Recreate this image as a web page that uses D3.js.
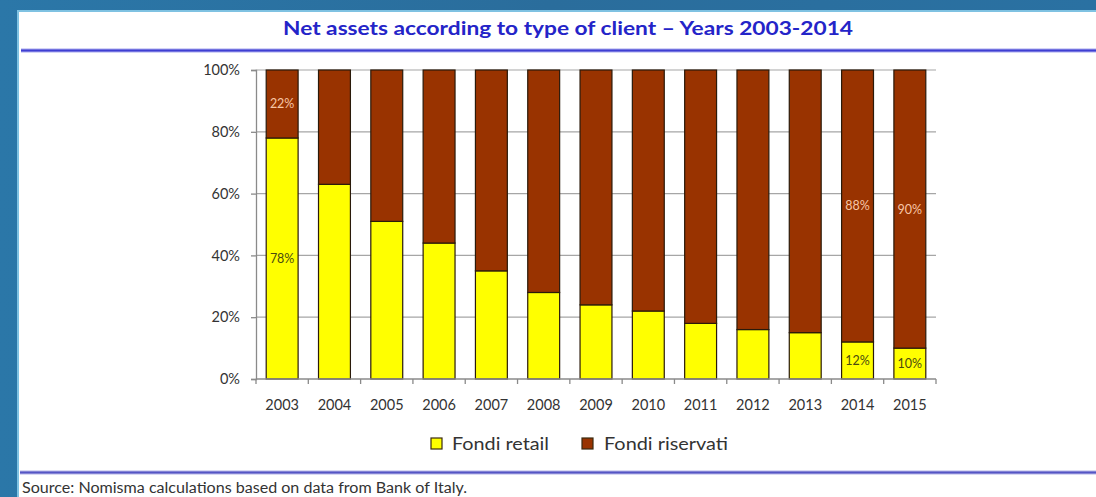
<!DOCTYPE html>
<html>
<head>
<meta charset="utf-8">
<script src="https://cdn.jsdelivr.net/npm/d3@7/dist/d3.min.js"></script>
<style>
  html, body { margin: 0; padding: 0; background: #2a6f9f; }
  svg { display: block; }
</style>
</head>
<body>
<svg id="chart" width="1096" height="497"></svg>
<script>
// Net assets by client type: share of retail vs reserved funds
const years = ["2003","2004","2005","2006","2007","2008","2009","2010","2011","2012","2013","2014","2015"];
const fondiRetail    = [78, 63, 51, 44, 35, 28, 24, 22, 18, 16, 15, 12, 10];
const fondiRiservati = [22, 37, 49, 56, 65, 72, 76, 78, 82, 84, 85, 88, 90];
const seriesNames = ["Fondi retail", "Fondi riservati"];
const yTicks = [0, 20, 40, 60, 80, 100];
const labeledYears = ["2003", "2014", "2015"];

const titleText = "Net assets according to type of client \u2013 Years 2003-2014";
const sourceText = "Source: Nomisma calculations based on data from Bank of Italy.";

const colors = { "Fondi retail": "#ffff00", "Fondi riservati": "#993300" };
const labelColors = { "Fondi retail": "#4a4a10", "Fondi riservati": "#f7c6a6" };
const FONT = "Lato, 'Open Sans', sans-serif";

const svg = d3.select("#chart");

// slide background with soft gradient
const defs = svg.append("defs");
const grad = defs.append("linearGradient").attr("id", "bg").attr("x1", 0).attr("y1", 0).attr("x2", 1).attr("y2", 0);
grad.append("stop").attr("offset", 0).attr("stop-color", "#2b77a8");
grad.append("stop").attr("offset", 0.5).attr("stop-color", "#2a6d9c");
grad.append("stop").attr("offset", 1).attr("stop-color", "#2a71a2");
svg.append("rect").attr("width", 1096).attr("height", 497).attr("fill", "url(#bg)");

// white panel with a light blue rim
svg.append("rect").attr("x", 17).attr("y", 10).attr("width", 1100).attr("height", 500)
  .attr("fill", "#7fc2e2");
svg.append("rect").attr("x", 19).attr("y", 12).attr("width", 1100).attr("height", 500)
  .attr("fill", "#ffffff");

// title
svg.append("text")
  .attr("x", 568).attr("y", 35)
  .attr("text-anchor", "middle")
  .attr("font-family", FONT).attr("font-weight", "bold").attr("font-size", 19.5)
  .attr("fill", "#2424c8")
  .attr("textLength", 570).attr("lengthAdjust", "spacingAndGlyphs")
  .text(titleText);

// rules under title and above source
svg.append("rect").attr("x", 21).attr("y", 48.5).attr("width", 1080).attr("height", 4).attr("fill", "#a8a8ee");
svg.append("rect").attr("x", 21).attr("y", 49.5).attr("width", 1080).attr("height", 2).attr("fill", "#3f3fd2");
svg.append("rect").attr("x", 20).attr("y", 470.5).attr("width", 1080).attr("height", 4).attr("fill", "#b4b4e6");
svg.append("rect").attr("x", 20).attr("y", 471.5).attr("width", 1080).attr("height", 2).attr("fill", "#5555c4");

// scales
const x = d3.scaleBand().domain(years).range([256, 936]).paddingInner(0.39).paddingOuter(0.195);
const y = d3.scaleLinear().domain([0, 100]).range([379, 70]);

// gridlines
svg.append("g").selectAll("line").data(yTicks.filter(d => d > 0)).join("line")
  .attr("x1", 256).attr("x2", 936)
  .attr("y1", d => y(d)).attr("y2", d => y(d))
  .attr("stroke", "#a6a6a6").attr("stroke-width", 1.2);

// stacked bars
const rows = years.map((yr, i) => ({ year: yr, "Fondi retail": fondiRetail[i], "Fondi riservati": fondiRiservati[i] }));
const stacked = d3.stack().keys(seriesNames)(rows);

const layers = svg.append("g").selectAll("g").data(stacked).join("g")
  .attr("fill", d => colors[d.key]);
layers.selectAll("rect").data(d => d).join("rect")
  .attr("x", d => x(d.data.year))
  .attr("width", x.bandwidth())
  .attr("y", d => y(d[1]))
  .attr("height", d => y(d[0]) - y(d[1]))
  .attr("stroke", "#2a1a0a").attr("stroke-width", 1.2);

// value labels
stacked.forEach(layer => {
  svg.append("g").selectAll("text")
    .data(layer.filter(d => labeledYears.includes(d.data.year)))
    .join("text")
    .attr("x", d => x(d.data.year) + x.bandwidth() / 2)
    .attr("y", d => (y(d[0]) + y(d[1])) / 2 + 4.5)
    .attr("text-anchor", "middle")
    .attr("font-family", FONT).attr("font-size", 12.5)
    .attr("fill", labelColors[layer.key])
    .text(d => d.data[layer.key] + "%");
});

// y axis
const yAxis = svg.append("g").attr("transform", "translate(256,0)")
  .call(d3.axisLeft(y).tickValues(yTicks).tickFormat(d => d + "%").tickSize(5).tickPadding(11));
yAxis.select(".domain").attr("stroke", "#8a8a8a").attr("stroke-width", 1.3);
yAxis.selectAll(".tick line").attr("stroke", "#8a8a8a").attr("stroke-width", 1.3);
yAxis.selectAll("text").attr("font-family", FONT).attr("font-size", 14.5).attr("fill", "#333");

// x axis with ticks at category boundaries
const xAxis = svg.append("g").attr("transform", "translate(0,379)");
xAxis.append("line").attr("x1", 256).attr("x2", 936).attr("stroke", "#8a8a8a").attr("stroke-width", 1.3);
const step = x.step();
const boundaries = d3.range(years.length + 1).map(i => 256 + i * step);
xAxis.selectAll("line.tk").data(boundaries).join("line").attr("class", "tk")
  .attr("x1", d => d).attr("x2", d => d).attr("y1", 0).attr("y2", 5)
  .attr("stroke", "#8a8a8a").attr("stroke-width", 1.3);
xAxis.selectAll("text").data(years).join("text")
  .attr("x", d => x(d) + x.bandwidth() / 2)
  .attr("y", 31)
  .attr("text-anchor", "middle")
  .attr("font-family", FONT).attr("font-size", 14.5).attr("fill", "#333")
  .text(d => d);

// legend
const legendItems = [
  { name: seriesNames[0], sx: 431, tx: 452, w: 97 },
  { name: seriesNames[1], sx: 582, tx: 604, w: 124 }
];
const legend = svg.append("g");
legend.selectAll("rect").data(legendItems).join("rect")
  .attr("x", d => d.sx).attr("y", 438).attr("width", 11).attr("height", 11)
  .attr("fill", d => colors[d.name]).attr("stroke", "#3a2a10").attr("stroke-width", 1.2);
legend.selectAll("text").data(legendItems).join("text")
  .attr("x", d => d.tx).attr("y", 450)
  .attr("font-family", FONT).attr("font-size", 17).attr("fill", "#333")
  .attr("textLength", d => d.w).attr("lengthAdjust", "spacingAndGlyphs")
  .text(d => d.name);

// source note
svg.append("text")
  .attr("x", 22).attr("y", 493)
  .attr("font-family", FONT).attr("font-size", 14.5).attr("fill", "#333")
  .attr("textLength", 445).attr("lengthAdjust", "spacingAndGlyphs")
  .text(sourceText);
</script>
</body>
</html>
